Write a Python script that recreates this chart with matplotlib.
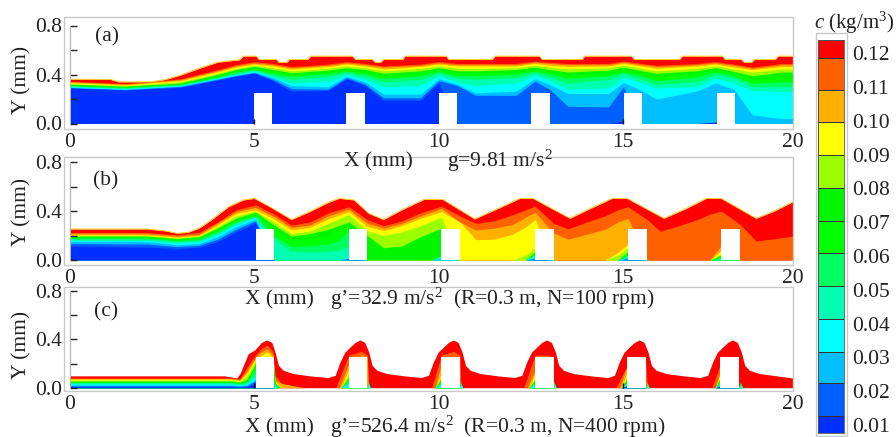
import matplotlib
matplotlib.use('Agg')
import matplotlib.pyplot as plt
from matplotlib.patches import Rectangle

plt.rcParams['font.family'] = ['Liberation Serif', 'DejaVu Serif']
plt.rcParams['mathtext.fontset'] = 'custom'
plt.rcParams['mathtext.rm'] = 'Liberation Serif'
plt.rcParams['mathtext.it'] = 'Liberation Serif:italic'

W, H = 896, 437
FS = 15.5
TXT = '#222222'
GRID = '#c8c8c8'

# colour of each band, c13 (top, red) down to c1 (bottom, deep blue)
band_colors = ['#ff0000', '#ff6000', '#ffb000', '#ffff00', '#9bff00', '#00f500', '#00ff00',
               '#00ff60', '#00ffb0', '#00ffff', '#00bfff', '#0060ff', '#0030ff']
cb_levels = [.0076, .0127, .0223, .0317, .0414, .0511, .0610, .0704, .0801, .0899, .0997, .1092, .1187, .1239]
cb_ticks = [.01, .02, .03, .04, .05, .06, .07, .08, .09, .10, .11, .12]
x_ticks = [0, 5, 10, 15, 19.6]
x_ticklabels = ['0', '5', '10', '15', '20']

# ---- panel (a)
a_blocks = [4.98, 7.49, 10.0, 12.51, 15.02, 17.54]
a_sx = [0, 1.1, 1.3, 2.2, 2.6, 3, 3.5, 4, 4.6, 4.7, 5.05, 5.12, 5.6, 5.66, 5.88, 5.95, 6.45, 6.52, 7.66, 7.72,
        8.2, 8.27, 8.42, 8.5, 9.02, 9.08, 10.2, 10.26, 11.45, 11.52, 12.72, 12.8, 13.88, 13.95, 15.22, 15.3,
        16.52, 16.6, 17.68, 17.76, 18.2, 18.27, 18.48, 18.55, 19.12, 19.2, 19.6]
a_sy = [.362, .36, .34, .34, .36, .395, .45, .50, .52, .55, .55, .522, .522, .50, .50, .522, .522, .55, .55, .525,
        .522, .50, .50, .522, .522, .55, .55, .522, .522, .55, .55, .522, .522, .55, .55, .522,
        .522, .55, .55, .522, .522, .50, .50, .522, .522, .55, .55]
a_x = [0, 1.5, 3, 4, 4.5, 5, 5.5, 6, 7, 7.5, 8, 8.5, 9.5, 10, 10.5, 11.0, 12.1, 12.6, 13, 13.5, 14.6, 15, 15.5, 15.9,
       17.0, 17.5, 18, 18.5, 19.3, 19.6]
a_c12 = [.345, .325, .365, .44, .48, .505, .49, .465, .485, .505, .49, .47, .485, .505, .49, .49, .49, .51, .50, .49, .49, .51, .49, .475, .49, .505, .485, .46, .49, .49]
a_c11 = [.34, .32, .358, .43, .47, .495, .48, .455, .475, .495, .48, .46, .475, .495, .48, .48, .48, .5, .49, .48, .48, .5, .48, .465, .48, .495, .475, .45, .48, .48]
a_c10 = [.333, .315, .35, .42, .46, .485, .47, .445, .465, .485, .47, .445, .465, .485, .47, .47, .47, .49, .475, .465, .47, .49, .47, .45, .47, .485, .46, .44, .465, .465]
a_c9 = [.325, .31, .34, .41, .45, .475, .455, .43, .45, .47, .455, .43, .45, .47, .45, .45, .455, .475, .46, .445, .455, .475, .45, .43, .45, .47, .445, .42, .445, .445]
a_c8 = [.32, .305, .33, .40, .44, .465, .44, .415, .435, .455, .44, .41, .43, .455, .43, .43, .44, .46, .44, .42, .435, .46, .43, .41, .43, .455, .425, .39, .42, .42]
a_c7 = [.315, .30, .325, .39, .43, .455, .425, .40, .42, .445, .42, .39, .41, .44, .41, .41, .42, .445, .42, .395, .41, .44, .41, .38, .41, .44, .41, .36, .37, .37]
a_c6 = [.31, .295, .32, .38, .42, .445, .41, .385, .405, .43, .405, .37, .39, .425, .39, .39, .40, .43, .405, .37, .39, .42, .39, .35, .38, .42, .39, .33, .34, .34]
a_c5 = [.305, .29, .315, .375, .41, .435, .395, .36, .385, .415, .385, .34, .36, .41, .37, .36, .375, .415, .38, .33, .36, .405, .36, .32, .34, .40, .37, .30, .30, .30]
a_c4 = [.30, .285, .31, .37, .40, .425, .38, .33, .345, .40, .36, .30, .31, .39, .34, .31, .33, .395, .35, .28, .29, .375, .33, .29, .30, .37, .33, .27, .26, .26]
a_c3 = [.295, .28, .305, .365, .395, .42, .375, .31, .30, .385, .34, .24, .24, .365, .32, .25, .265, .365, .32, .245, .245, .335, .27, .20, .265, .33, .28, .07, .04, .04]
a_c2 = [.292, .277, .302, .36, .39, .415, .36, .285, .28, .375, .32, .21, .21, .35, .31, .23, .23, .345, .28, .14, .135, .30, 0, 0, 0, .01, 0, 0, 0, 0]
a_c1 = [.29, .272, .295, .355, .385, .41, .35, .265, .27, .365, .31, .19, .19, .33, 0, 0, 0, 0, 0, 0, 0, .02, 0, 0, 0, .01, 0, 0, 0, 0]

# ---- panel (b)
b_blocks = [5.03, 7.56, 10.07, 12.61, 15.13, 17.66]
b_sx = [0, 2.1, 2.6, 2.9, 3.2, 3.5, 3.8, 4.3, 4.7, 5.0, 5.5, 6, 6.5, 7, 7.3, 7.7, 8.1, 8.5, 9, 9.6, 10.1, 10.97,
        11.6, 12.2, 12.55, 13.55, 14.1, 14.7, 15.1, 16.1, 16.7, 17.25, 17.65, 18.6, 19.1, 19.6]
b_sy = [.253, .253, .237, .218, .226, .26, .32, .435, .49, .503, .42, .33, .395, .47, .503, .49, .38, .33, .41, .495, .495, .335,
        .42, .503, .503, .34, .42, .503, .503, .34, .42, .503, .503, .34, .40, .476]
b_x = [0, 2.1, 2.9, 3.5, 4, 4.5, 5.03, 5.53, 6, 6.5, 7, 7.56, 8.06, 8.5, 9, 9.5, 10.07, 10.57, 11, 11.5, 12, 12.35, 12.61,
       13.11, 13.5, 14, 14.5, 14.85, 15.13, 15.65, 16, 16.5, 17, 17.35, 17.66, 18.17, 18.6, 19, 19.6]
b_c12 = [.225, .225, .205, .225, .31, .41, .45, .375, .285, .31, .385, .435, .33, .28, .32, .385, .44, .36, .30, .32, .37, .41, .44, .30, .255, .31, .36, .41, .435, .33, .235, .28, .33, .375, .40, .29, .155, .17, .195]
b_c11 = [.215, .215, .195, .21, .30, .395, .43, .355, .265, .285, .36, .415, .30, .26, .30, .36, .42, .31, .245, .26, .29, .35, .39, .22, .17, .21, .25, .31, .34, 0, 0, 0, 0, 0, .12, 0, 0, 0, 0]
b_c10 = [.205, .205, .185, .20, .285, .38, .41, .335, .245, .265, .335, .395, .275, .24, .28, .34, .395, .31, .165, .17, .21, .27, .33, 0, 0, 0, 0, .06, .13, 0, 0, 0, 0, 0, .08, 0, 0, 0, 0]
b_c9 = [.20, .20, .18, .195, .275, .36, .40, .31, .215, .235, .30, .37, .24, .20, .23, .28, .35, 0, 0, 0, 0, .04, .10, 0, 0, 0, 0, .04, .10, 0, 0, 0, 0, 0, .05, 0, 0, 0, 0]
b_c8 = [.195, .195, .175, .19, .26, .34, .39, .285, .195, .215, .25, .31, .20, .10, .115, .19, .26, 0, 0, 0, 0, 0, .07, 0, 0, 0, 0, 0, .07, 0, 0, 0, 0, 0, .04, 0, 0, 0, 0]
b_low_x = [0, 2.1, 2.9, 3.5, 4, 4.5, 5.03, 5.53, 6, 6.5, 7, 7.3, 7.56, 8.06, 9.8, 10.07, 10.57, 12.35, 12.61, 13.11, 14.85, 15.13, 15.65, 17.35, 17.66, 18.17, 19.6]
b_c7 = [.19, .19, .17, .18, .25, .33, .38, .25, .16, .17, .20, .24, .29, 0, 0, .05, 0, 0, .06, 0, 0, .055, 0, 0, .03, 0, 0]
b_c6 = [.18, .18, .16, .17, .235, .315, .365, .20, .11, .115, .13, .16, .24, 0, 0, .04, 0, 0, .05, 0, 0, .045, 0, 0, .02, 0, 0]
b_c5 = [.17, .17, .15, .16, .22, .30, .355, .17, .07, .065, .07, .08, .11, 0, 0, .03, 0, 0, .04, 0, 0, .035, 0, 0, .012, 0, 0]
b_c4 = [.16, .16, .14, .15, .205, .29, .35, 0, 0, 0, 0, 0, .035, 0, 0, .02, 0, 0, .03, 0, 0, .025, 0, 0, 0, 0, 0]
b_c3 = [.15, .15, .125, .135, .19, .27, .335, 0, 0, 0, 0, 0, .02, 0, 0, .012, 0, 0, .02, 0, 0, .02, 0, 0, 0, 0, 0]
b_c2 = [.135, .13, .11, .12, .17, .25, .32, 0, 0, 0, 0, 0, .01, 0, 0, 0, 0, 0, .01, 0, 0, .01, 0, 0, 0, 0, 0]
b_c1 = [.115, .105, .095, .105, .15, .23, .30, 0, 0, 0, 0, 0, 0, 0, 0, 0, 0, 0, 0, 0, 0, 0, 0, 0, 0, 0, 0]

# ---- panel (c)
c_blocks = [5.04, 7.56, 10.07, 12.61, 15.11, 17.63]
c_sx = [0, 4.2, 4.52, 4.61, 4.70, 4.83, 5.01, 5.19, 5.33, 5.47, 5.56, 5.65, 5.78, 6.05, 6.5, 6.99,
        7.19, 7.32, 7.45, 7.59, 7.73, 7.86, 7.99, 8.10, 8.19, 8.32, 8.59, 9.06, 9.52,
        9.72, 9.85, 9.98, 10.12, 10.26, 10.39, 10.52, 10.63, 10.72, 10.85, 11.12, 11.59, 12.05,
        12.25, 12.38, 12.51, 12.65, 12.79, 12.92, 13.05, 13.16, 13.25, 13.38, 13.65, 14.12, 14.58,
        14.76, 14.89, 15.02, 15.16, 15.30, 15.43, 15.56, 15.67, 15.76, 15.89, 16.16, 16.63, 17.09,
        17.29, 17.42, 17.55, 17.69, 17.83, 17.96, 18.09, 18.20, 18.29, 18.42, 18.69, 19.16, 19.6]
c_sy = [.098, .098, .08, .117, .185, .28, .313, .375, .395, .375, .294, .185, .144, .117, .098, .084,
        .103, .212, .294, .335, .375, .395, .375, .294, .185, .144, .117, .098, .084,
        .103, .212, .294, .335, .375, .395, .375, .294, .185, .144, .117, .098, .084,
        .103, .212, .294, .335, .375, .395, .375, .294, .185, .144, .117, .098, .084,
        .103, .212, .294, .335, .375, .395, .375, .294, .185, .144, .117, .098, .084,
        .103, .212, .294, .335, .375, .395, .375, .294, .185, .144, .117, .098, .08]
c_x12 = [0, 4.4, 4.6, 4.8, 5.03, 5.2, 5.35, 5.5, 5.56, 5.75, 6.4, 7.2, 7.56, 7.9, 8.06, 8.1, 9.8, 10.07, 10.4, 10.57, 10.6, 12.3, 12.61, 13.0, 13.11, 14.8, 15.13, 15.6, 15.65, 17.4, 17.66, 18.2, 19.6]
c_c12 = [.08, .08, .07, .17, .27, .33, .35, .30, .10, .03, 0, 0, .27, .30, .27, 0, 0, .27, .30, .27, 0, 0, .27, .27, 0, 0, .2, .26, 0, 0, .22, 0, 0]
c_x11 = [0, 4.4, 4.6, 4.8, 5.03, 5.2, 5.35, 5.5, 5.56, 5.75, 6.3, 7.3, 7.56, 7.9, 8.06, 8.08, 9.9, 10.07, 10.57, 12.4, 12.61, 13.11, 14.9, 15.13, 15.63, 17.5, 17.66, 18.16, 19.6]
c_c11 = [.075, .075, .065, .14, .25, .30, .32, .27, .06, .035, 0, 0, .2, .27, .25, 0, 0, .2, 0, 0, .15, 0, 0, .2, 0, 0, .18, 0, 0]
c_x10 = [0, 4.4, 4.6, 4.8, 5.03, 5.2, 5.35, 5.5, 5.56, 5.7, 7.35, 7.56, 8.06, 9.9, 10.07, 10.57, 12.45, 12.61, 13.11, 14.95, 15.13, 15.63, 17.5, 17.66, 18.16, 19.6]
c_c10 = [.07, .07, .06, .12, .235, .27, .295, .25, .05, 0, 0, .15, 0, 0, .12, 0, 0, .12, 0, 0, .15, 0, 0, .15, 0, 0]
c_c9 = [.062, .062, .052, .10, .225, .255, .262, .25, .045, 0, 0, .12, 0, 0, .10, 0, 0, .09, 0, 0, .12, 0, 0, .12, 0, 0]
c_c8 = [.055, .055, .045, .07, .20, .258, .258, .258, .04, 0, 0, .09, 0, 0, .08, 0, 0, .07, 0, 0, .09, 0, 0, .10, 0, 0]
c_xlow = [0, 4.4, 4.6, 4.8, 5.03, 5.53, 5.54, 5.62, 7.35, 7.56, 8.06, 8.07, 8.14, 9.9, 10.07, 10.57, 10.58, 10.65, 12.45, 12.61, 13.11, 13.12, 13.18, 14.95, 15.13, 15.63, 15.64, 15.7, 17.5, 17.66, 18.16, 18.17, 18.23, 19.6]
c_c7 = [.05, .05, .04, .06, .18, 0, .06, 0, 0, .07, 0, .06, 0, 0, .06, 0, .05, 0, 0, .05, 0, .05, 0, 0, .07, 0, .05, 0, 0, .08, 0, .05, 0, 0]
c_c6 = [.045, .045, .035, .052, .15, 0, .055, 0, 0, .06, 0, .055, 0, 0, .05, 0, .045, 0, 0, .042, 0, .045, 0, 0, .06, 0, .045, 0, 0, .07, 0, .045, 0, 0]
c_c5 = [.04, .04, .03, .045, .12, 0, .05, 0, 0, .05, 0, .05, 0, 0, .04, 0, .04, 0, 0, .035, 0, .04, 0, 0, .05, 0, .04, 0, 0, .06, 0, .04, 0, 0]
c_c4 = [.03, .03, .022, .032, .09, 0, .03, 0, 0, .03, 0, .03, 0, 0, .02, 0, .02, 0, 0, .02, 0, .02, 0, 0, .035, 0, .02, 0, 0, .04, 0, .02, 0, 0]
c_xblue = [0, 4.4, 4.6, 4.8, 5.03, 5.53, 14.95, 15.13, 15.63, 17.5, 17.66, 18.16, 19.6]
c_c3 = [.022, .022, .016, .024, .07, 0, 0, .025, 0, 0, .03, 0, 0]
c_c2 = [.015, .015, .01, .016, .055, 0, 0, .015, 0, 0, .02, 0, 0]
c_c1 = [.008, .008, .005, .008, .035, 0, 0, .01, 0, 0, .01, 0, 0]

a_layers = [(a_sx, a_sy)] + [(a_x, r) for r in (a_c12, a_c11, a_c10, a_c9, a_c8, a_c7, a_c6, a_c5, a_c4, a_c3, a_c2, a_c1)]
b_layers = [(b_sx, b_sy)] + [(b_x, r) for r in (b_c12, b_c11, b_c10, b_c9, b_c8)] \
    + [(b_low_x, r) for r in (b_c7, b_c6, b_c5, b_c4, b_c3, b_c2, b_c1)]
c_layers = [(c_sx, c_sy), (c_x12, c_c12), (c_x11, c_c11), (c_x10, c_c10), (c_x10, c_c9), (c_x10, c_c8),
            (c_xlow, c_c7), (c_xlow, c_c6), (c_xlow, c_c5), (c_xlow, c_c4),
            (c_xblue, c_c3), (c_xblue, c_c2), (c_xblue, c_c1)]


def px_axes(fig, left, top, right, bottom):
    return fig.add_axes([left / W, 1 - bottom / H, (right - left) / W, (bottom - top) / H])


def panel(fig, top, bottom, y0, y8, layers, blocks, block_h, edge, marks):
    ax = px_axes(fig, 64, top, 793, bottom)
    for (xs, ys), col in zip(layers, band_colors):
        ax.fill_between(xs, 0, ys, color=col, lw=0)
    if edge:
        ax.plot(layers[0][0], layers[0][1], color='#ffc400', lw=0.6)
    for b in blocks:
        ax.fill_between([b, b + 0.5], 0, block_h, color='white', lw=0, zorder=3)
    if marks:
        ax.vlines(marks, 0, 0.04, color='#111111', lw=1, zorder=4)
    ppu = (y0 - y8) / 0.8
    ax.set_xlim(-6 / 36.9, 19.59)
    ax.set_ylim(-(bottom - y0) / ppu, (y0 - top) / ppu)
    for s in ['top', 'right', 'bottom']:
        ax.spines[s].set_visible(False)
    ax.spines['left'].set_position(('data', 0))
    ax.spines['left'].set_bounds(0, 0.8)
    ax.spines['left'].set_color('#b0b0b0')
    ax.spines['left'].set_linewidth(0.8)
    ax.add_patch(Rectangle((0, 0), 1, 1, transform=ax.transAxes, fill=False, ec=GRID, lw=1, clip_on=False, zorder=5))
    ax.set_yticks([0, 0.2, 0.4, 0.6, 0.8])
    ax.set_yticklabels(['0.0', '', '0.4', '', '0.8'])
    ax.tick_params(axis='y', direction='in', length=5, width=1, color=TXT, labelsize=FS, labelcolor=TXT, pad=6)
    ax.set_xticks(x_ticks)
    ax.set_xticklabels(x_ticklabels)
    ax.tick_params(axis='x', length=0, labelsize=FS, labelcolor=TXT, pad=3)
    return ax


def txt(fig, x, y, s, **kw):
    fig.text(x / W, 1 - y / H, s, fontsize=kw.pop('fs', FS), color=TXT, va='center', **kw)


fig = plt.figure(figsize=(W / 100, H / 100), dpi=100)

panel(fig, 17, 129, 123.5, 25.5, a_layers, a_blocks, 0.25, True, [5, 15])
panel(fig, 157, 264.5, 260, 162, b_layers, b_blocks, 0.25, True, [])
panel(fig, 287, 391, 387.7, 291, c_layers, c_blocks, 0.253, False, [5, 15])

txt(fig, 107, 37, '(a)', ha='center')
txt(fig, 106, 181, '(b)', ha='center')
txt(fig, 106, 312, '(c)', ha='center')
for yc in [80, 212, 345]:
    txt(fig, 22, yc, 'Y (mm)', ha='center', rotation=90)

txt(fig, 378, 162, 'X (mm)', ha='center')
txt(fig, 447, 161, 'g=9.81 m/s$^2$', ha='left')
txt(fig, 279, 300, 'X (mm)', ha='center')
txt(fig, 330, 299, "g\u2019=32.9 m/s$^2$  (R=0.3 m, N=100 rpm)", ha='left')
txt(fig, 279, 428, 'X (mm)', ha='center')
txt(fig, 330, 427, "g\u2019=526.4 m/s$^2$  (R=0.3 m, N=400 rpm)", ha='left')

# colour bar
cax = px_axes(fig, 818, 40, 844, 433)
for lo, hi, col in zip(cb_levels[:-1], cb_levels[1:], band_colors[::-1]):
    cax.bar(0.5, hi - lo, bottom=lo, width=1, color=col, ec='#333333', lw=0.7)
cax.set_xlim(0, 1)
cax.set_ylim(cb_levels[0], cb_levels[-1])
cax.set_xticks([])
cax.yaxis.tick_right()
cax.set_yticks(cb_ticks)
cax.set_yticklabels(['%.2f' % t for t in cb_ticks])
cax.tick_params(axis='y', length=0, labelsize=FS, labelcolor=TXT, pad=6)
for s in cax.spines.values():
    s.set_color('#555555')
    s.set_linewidth(0.6)
fig.add_artist(Rectangle((815.7 / W, 1 - 435.5 / H), 31.3 / W, 402.5 / H, transform=fig.transFigure,
                         fill=False, ec=GRID, lw=1))
txt(fig, 854.5, 23, r'$\mathit{c}$ (kg/m$^3$)', ha='center', fs=15)

fig.savefig('out.png', dpi=100)
